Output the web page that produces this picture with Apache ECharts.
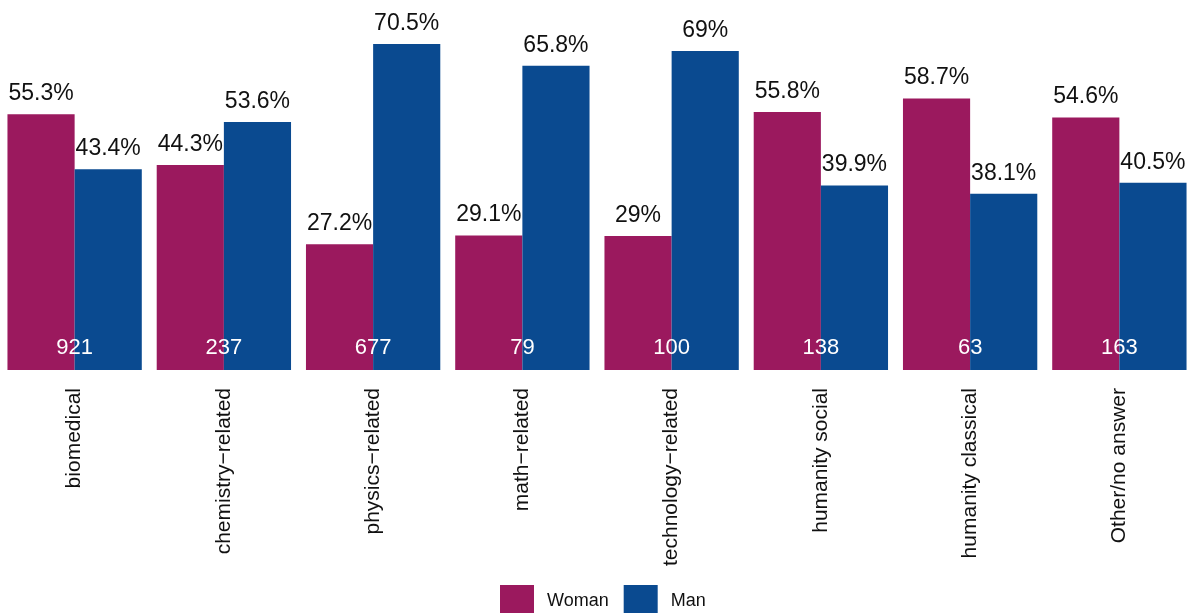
<!DOCTYPE html>
<html>
<head>
<meta charset="utf-8">
<script src="https://cdn.jsdelivr.net/npm/echarts@6/dist/echarts.min.js"></script>
<style>
html,body{margin:0;padding:0;background:#fff;}
#chart{width:1194px;height:613px;}
</style>
</head>
<body>
<div id="chart"></div>
<script>
// categories and values
var fields = ['biomedical', 'chemistry\u2212related', 'physics\u2212related', 'math\u2212related',
	'technology\u2212related', 'humanity social', 'humanity classical', 'Other/no answer'];
var woman = [55.3, 44.3, 27.2, 29.1, 29, 55.8, 58.7, 54.6];
var man = [43.4, 53.6, 70.5, 65.8, 69, 39.9, 38.1, 40.5];
var counts = [921, 237, 677, 79, 100, 138, 63, 163];
var baseline = [0, 0, 0, 0, 0, 0, 0, 0];

var chart = echarts.init(document.getElementById('chart'));
var font = '"Liberation Sans", Arial, sans-serif';

var pctLabel = {
	show: true,
	position: 'top',
	distance: 9,
	color: '#111111',
	fontSize: 23,
	fontFamily: font,
	formatter: function(p){ return p.value + '%'; }
};

var option = {
	animation: false,
	grid: {
		left: 0,
		right: 0,
		top: 0,
		bottom: 243
	},
	legend: {
		data: ['Woman', 'Man'],
		top: 580,
		left: 495,
		itemWidth: 34,
		itemHeight: 32,
		itemGap: 15,
		icon: 'rect',
		textStyle: {
			color: '#111111',
			fontSize: 18,
			fontFamily: font,
			padding: [0, 0, 0, 8]
		}
	},
	xAxis: {
		type: 'category',
		data: fields,
		axisLine: { show: false },
		axisTick: { show: false },
		axisLabel: {
			rotate: 90,
			margin: 18,
			color: '#111111',
			fontSize: 21,
			fontFamily: font
		}
	},
	yAxis: {
		type: 'value',
		min: 0,
		max: 80,
		show: false,
		splitLine: { show: false }
	},
	series: [{
		name: 'Woman',
		type: 'bar',
		data: woman,
		barGap: '0%',
		barCategoryGap: '10%',
		itemStyle: { color: '#9B195E' },
		label: pctLabel
	}, {
		name: 'Man',
		type: 'bar',
		data: man,
		itemStyle: { color: '#0A4A90' },
		label: pctLabel
	}, {
		// respondent counts, centred at the foot of each pair of bars
		name: 'n',
		type: 'scatter',
		data: baseline,
		symbolSize: 0,
		silent: true,
		z: 5,
		itemStyle: { opacity: 1 },
		label: {
			show: true,
			position: 'inside',
			offset: [0, -22],
			color: '#ffffff',
			opacity: 1,
			fontSize: 22,
			fontFamily: font,
			formatter: function(p){ return counts[p.dataIndex]; }
		}
	}]
};
chart.setOption(option);
</script>
</body>
</html>
